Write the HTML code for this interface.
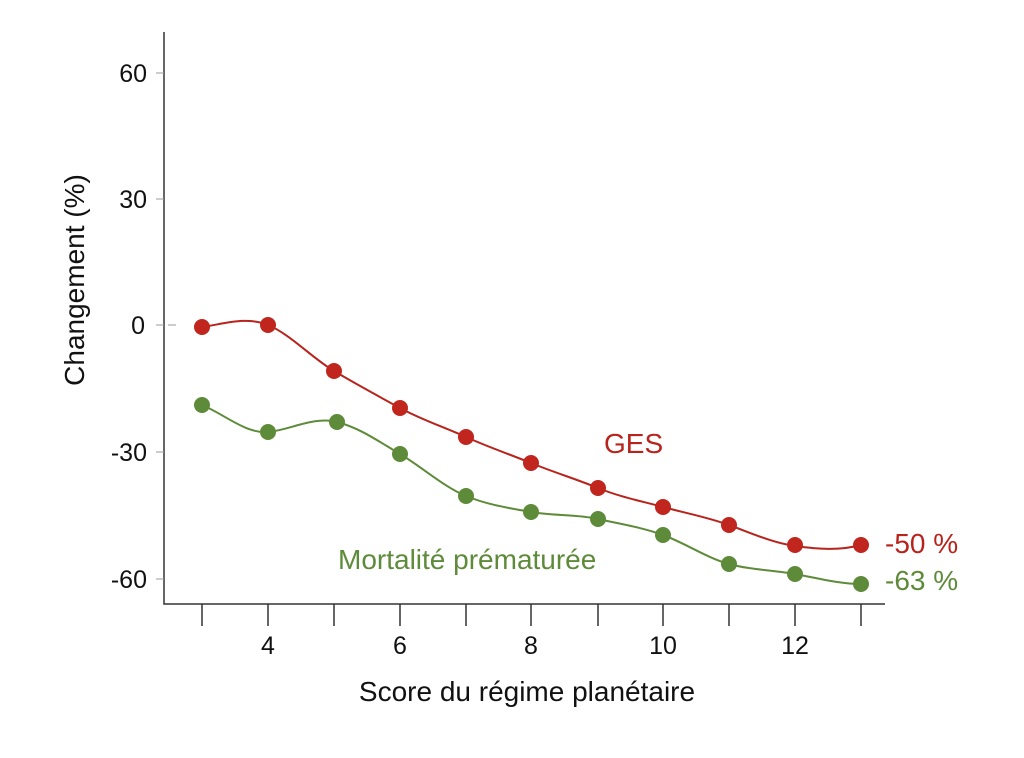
<!DOCTYPE html>
<html><head><meta charset="utf-8"><style>body{margin:0;background:#fff}</style></head><body>
<svg width="1024" height="753" xmlns="http://www.w3.org/2000/svg" font-family="Liberation Sans, sans-serif">
<rect width="1024" height="753" fill="#fff"/>
<g stroke="#333" stroke-width="1.5" fill="none">
<path d="M164 32 V604 H885"/>
<path d="M202 604 V626 M268 604 V626 M334 604 V626 M400 604 V626 M466 604 V626 M531 604 V626 M598 604 V626 M663 604 V626 M729 604 V626 M795 604 V626 M861 604 V626"/>
</g>
<g stroke="#999" stroke-width="1"><path d="M156 73h8M156 199h8M156 325h8M156 452h8M156 579h8M168 325h8"/></g>
<g font-size="25" fill="#111" text-anchor="end">
<text x="147" y="82">60</text><text x="147" y="208">30</text><text x="145" y="334">0</text><text x="147" y="461">-30</text><text x="147" y="588">-60</text>
</g>
<g font-size="25" fill="#111" text-anchor="middle">
<text x="268" y="654">4</text><text x="400" y="654">6</text><text x="531" y="654">8</text><text x="663" y="654">10</text><text x="795" y="654">12</text>
</g>
<text x="527" y="701" font-size="28" text-anchor="middle" fill="#111">Score du régime planétaire</text>
<text transform="translate(84,280) rotate(-90)" font-size="28" text-anchor="middle" fill="#111">Changement (%)</text>
<path d="M202 327 C224 324,246 316,268 325 C290 334,312 358,334 371 C356 384,378 396,400 408 C422 420,444 427,466 437 C488 447,509 454,531 463 C553 472,576 479,598 488 C620 497,641 501,663 507 C685 513,707 517,729 525 C751 533,773 543,795 546 C817 549,839 551,861 545" stroke="#b8231c" stroke-width="2" fill="none"/>
<path d="M202 405 C224 414,246 434,268 432 C290 430,314 416,337 422 C360 428,378 441,400 454 C422 467,444 487,466 496 C488 505,509 508,531 512 C553 516,576 514,598 519 C620 524,641 527,663 535 C685 543,707 558,729 564 C751 570,773 570,795 574 C817 578,839 584,861 584" stroke="#5e8b3a" stroke-width="2" fill="none"/>
<g fill="#c0261d">
<circle cx="202" cy="327" r="8"/><circle cx="268" cy="325" r="8"/><circle cx="334" cy="371" r="8"/><circle cx="400" cy="408" r="8"/><circle cx="466" cy="437" r="8"/><circle cx="531" cy="463" r="8"/><circle cx="598" cy="488" r="8"/><circle cx="663" cy="507" r="8"/><circle cx="729" cy="525" r="8"/><circle cx="795" cy="545" r="8"/><circle cx="861" cy="545" r="8"/>
</g>
<g fill="#5e8b3a">
<circle cx="202" cy="405" r="8"/><circle cx="268" cy="432" r="8"/><circle cx="337" cy="422" r="8"/><circle cx="400" cy="454" r="8"/><circle cx="466" cy="496" r="8"/><circle cx="531" cy="512" r="8"/><circle cx="598" cy="519" r="8"/><circle cx="663" cy="535" r="8"/><circle cx="729" cy="564" r="8"/><circle cx="795" cy="574" r="8"/><circle cx="861" cy="584" r="8"/>
</g>
<text x="604" y="453" font-size="28" fill="#b8231c">GES</text>
<text x="885" y="553" font-size="28" fill="#b8231c">-50 %</text>
<text x="338" y="569" font-size="28" fill="#5e8b3a">Mortalité prématurée</text>
<text x="885" y="590" font-size="28" fill="#5e8b3a">-63 %</text>
</svg>
</body></html>
